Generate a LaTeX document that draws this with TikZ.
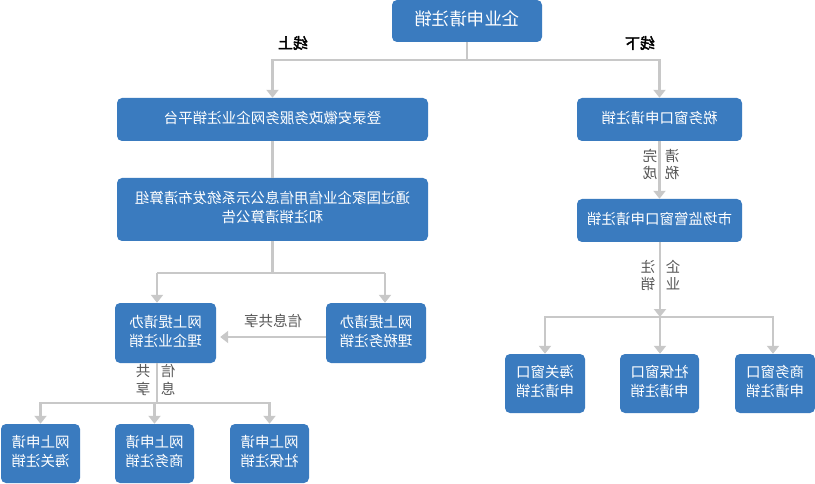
\documentclass[tikz,border=0pt]{standalone}
\usepackage{fontspec}
\usepackage{graphicx}
\setmainfont{Noto Sans CJK SC}[AutoFakeBold=2.5]
\usetikzlibrary{arrows.meta}
\definecolor{boxblue}{HTML}{3A7BBF}
\definecolor{linegray}{HTML}{C8C8C8}
\definecolor{labgray}{HTML}{555555}
\newcommand{\mirtext}[1]{\reflectbox{\begin{tabular}{@{}c@{}}#1\end{tabular}}}
\begin{document}
\begin{tikzpicture}[x=1pt,y=-1pt,
  box/.style={fill=boxblue, rounded corners=5pt, text=white, inner sep=0pt, anchor=center,
    font=\fontsize{14.5}{19}\selectfont},
  conn/.style={draw=linegray, line width=2.5pt},
  arr/.style={conn, -{Triangle[width=12pt,length=8pt]}},
  lab/.style={text=labgray, inner sep=0pt, font=\fontsize{14.5}{16.5}\selectfont},
  side/.style={text=black, inner sep=0pt, font=\fontsize{15}{17}\selectfont\bfseries}]
\useasboundingbox (0,0) rectangle (815,484);

% boxes
\node[box, minimum width=150pt, minimum height=42pt, font=\fontsize{17.5}{20}\selectfont] (top) at (467,21) {\mirtext{企业申请注销}};
\node[box, minimum width=311pt, minimum height=43pt] (b1) at (272.5,119.5) {\mirtext{登录安徽政务服务网企业注销平台}};
\node[box, minimum width=311pt, minimum height=63pt] (b2) at (272.5,209.5) {\mirtext{通过国家企业信用信息公示系统发布清算组\\和注销清算公告}};
\node[box, minimum width=101pt, minimum height=60pt] (b3l) at (165.5,333) {\mirtext{网上提请办\\理企业注销}};
\node[box, minimum width=100pt, minimum height=60pt] (b3r) at (376,333) {\mirtext{网上提请办\\理税务注销}};
\node[box, minimum width=79pt, minimum height=59pt] (bl1) at (40.5,453.5) {\mirtext{网上申请\\海关注销}};
\node[box, minimum width=79pt, minimum height=59pt] (bl2) at (154.5,453.5) {\mirtext{网上申请\\商务注销}};
\node[box, minimum width=79pt, minimum height=59pt] (bl3) at (269.5,453.5) {\mirtext{网上申请\\社保注销}};
\node[box, minimum width=165pt, minimum height=43pt] (r1) at (659.5,119.5) {\mirtext{税务窗口申请注销}};
\node[box, minimum width=165pt, minimum height=43pt] (r2) at (659.5,220.5) {\mirtext{市场监管窗口申请注销}};
\node[box, minimum width=80pt, minimum height=59pt] (rb1) at (545,383.5) {\mirtext{海关窗口\\申请注销}};
\node[box, minimum width=79pt, minimum height=59pt] (rb2) at (659.5,383.5) {\mirtext{社保窗口\\申请注销}};
\node[box, minimum width=80pt, minimum height=59pt] (rb3) at (775,383.5) {\mirtext{商务窗口\\申请注销}};

% labels
\node[side] (online) at (293,45) {\mirtext{线上}};
\node[side] (offline) at (640,45) {\mirtext{线下}};
\node[lab] (share1) at (273,323) {\mirtext{信息共享}};
\node[lab] (wc) at (650,166) {\mirtext{完\\成}};
\node[lab] (qs) at (672,166) {\mirtext{清\\税}};
\node[lab] (zx) at (648,277) {\mirtext{注\\销}};
\node[lab] (qy) at (673,277) {\mirtext{企\\业}};
\node[lab] (gx) at (143,382) {\mirtext{共\\享}};
\node[lab] (xx) at (168,382) {\mirtext{信\\息}};

% connectors
\coordinate (j1) at (467,60);
\draw[conn] (top.south) -- (j1);
\draw[arr] (j1) -| (b1.north);
\draw[arr] (j1) -| (r1.north);
\draw[conn] (b1.south) -- (b2.north);
\coordinate (j2) at (272.5,273);
\coordinate (j2l) at (157,273);
\coordinate (j2r) at (385,273);
\draw[conn] (b2.south) -- (j2);
\draw[conn] (j2l) -- (j2r);
\draw[arr] (j2l) -- (j2l |- b3l.north);
\draw[arr] (j2r) -- (j2r |- b3r.north);
\draw[arr, shorten >=4pt] ([yshift=-4pt]b3r.west) -- ([yshift=-4pt]b3l.east);
\coordinate (jb) at (157,403);
\draw[conn] (jb |- b3l.south) -- (jb);
\draw[arr] (jb) -| (bl1.north);
\draw[arr] (jb) -| (bl2.north);
\draw[arr] (jb) -| (bl3.north);
\draw[arr] (r1.south) -- (r2.north);
\coordinate (jr) at (660,317);
\draw[arr] (r2.south -| jr) -- (jr);
\draw[arr] (jr) -| (rb1.north);
\draw[arr] (jr) -| ([xshift=-2pt]rb3.north);
\draw[arr] (jr) -- (jr |- rb2.north);
\end{tikzpicture}
\end{document}
